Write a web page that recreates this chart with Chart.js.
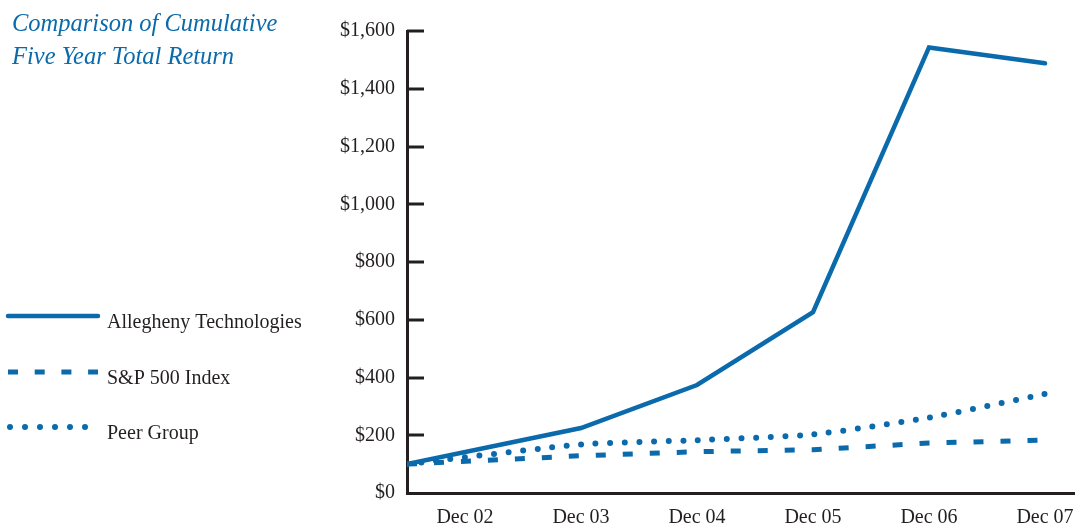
<!DOCTYPE html>
<html>
<head>
<meta charset="utf-8">
<script src="https://cdn.jsdelivr.net/npm/chart.js@4.4.1/dist/chart.umd.min.js"></script>
<style>
  html, body { margin: 0; padding: 0; background: #fff; }
  #wrap { position: relative; width: 1075px; height: 527px; }
  #title { position: absolute; left: 12px; top: 6px; font-family: "Liberation Serif", serif; font-style: italic;
           font-size: 24.5px; line-height: 33px; color: #0a6aab; }
  canvas { position: absolute; left: 0; top: 0; }
</style>
</head>
<body>
<div id="wrap">
  <canvas id="c" width="1075" height="527"></canvas>
  <div id="title">Comparison of Cumulative<br>Five Year Total Return</div>
</div>
<script>
const categories = ["Dec 02", "Dec 03", "Dec 04", "Dec 05", "Dec 06", "Dec 07"];
const alleghenyValues = [100, 225, 374, 626, 1543, 1488];
const sp500Values = [100, 129, 143, 150, 173, 183];
const peerValues = [100, 168, 183, 203, 261, 343];
const yTickValues = [0, 200, 400, 600, 800, 1000, 1200, 1400, 1600];
const seriesNames = ["Allegheny Technologies", "S&P 500 Index", "Peer Group"];

const BLUE = "#0a6aab";
const INK = "#231f20";
const X_MIN = -0.5, X_MAX = 5.25;

// The base (first) value is plotted on the y-axis itself, as in the original.
function toPoints(vals) {
  return vals.map((v, i) => ({ x: i === 0 ? X_MIN : i, y: v }));
}

const yTickPlugin = {
  id: 'yTicksInside',
  afterDraw(chart) {
    const ctx = chart.ctx, y = chart.scales.y, left = chart.chartArea.left;
    ctx.save();
    ctx.strokeStyle = INK; ctx.lineWidth = 3;
    y.ticks.forEach(t => {
      if (t.value === 0) return;
      const py = Math.round(y.getPixelForValue(t.value));
      ctx.beginPath(); ctx.moveTo(left, py); ctx.lineTo(left + 17, py); ctx.stroke();
    });
    ctx.restore();
  }
};

const legendPlugin = {
  id: 'sideLegend',
  afterDraw(chart) {
    const ctx = chart.ctx;
    const rows = [316, 372, 427];
    ctx.save();
    chart.data.datasets.forEach((ds, i) => {
      const yy = rows[i];
      ctx.strokeStyle = ds.borderColor;
      ctx.lineWidth = ds.borderWidth;
      ctx.lineCap = ds.borderCapStyle || 'butt';
      ctx.setLineDash(ds.legendDash || []);
      ctx.beginPath(); ctx.moveTo(i === 2 ? 10 : 8, yy); ctx.lineTo(i === 2 ? 100 : 98, yy); ctx.stroke();
      ctx.setLineDash([]);
      ctx.fillStyle = INK;
      ctx.font = '20px "Liberation Serif", serif';
      ctx.textBaseline = 'alphabetic';
      ctx.textAlign = 'left';
      ctx.fillText(ds.label, 107, yy + 12);
    });
    ctx.restore();
  }
};

new Chart(document.getElementById('c'), {
  type: 'line',
  data: {
    datasets: [
      { label: seriesNames[0], data: toPoints(alleghenyValues), borderColor: BLUE, borderWidth: 4.5,
        borderCapStyle: 'round', borderJoinStyle: 'miter', pointRadius: 0, tension: 0, legendDash: [] },
      { label: seriesNames[1], data: toPoints(sp500Values), borderColor: BLUE, borderWidth: 5,
        borderDash: [10, 17], borderCapStyle: 'butt', pointRadius: 0, tension: 0, legendDash: [10, 16.7] },
      { label: seriesNames[2], data: toPoints(peerValues), borderColor: BLUE, borderWidth: 6,
        borderDash: [0, 14.6], borderCapStyle: 'round', pointRadius: 0, tension: 0.2, legendDash: [0, 15] }
    ]
  },
  options: {
    responsive: false,
    animation: false,
    layout: { padding: { left: 0, right: 1, top: 31, bottom: 0 } },
    plugins: { legend: { display: false }, tooltip: { enabled: false } },
    scales: {
      x: {
        type: 'linear', min: X_MIN, max: X_MAX,
        afterBuildTicks: (s) => { s.ticks = categories.map((c, i) => ({ value: i })); },
        afterFit: (s) => { s.height = 34; s.paddingRight = 0; s.paddingLeft = 0; },
        ticks: { callback: (v) => categories[v] ?? '', color: INK, padding: 13, maxRotation: 0, autoSkip: false,
                 font: { family: '"Liberation Serif", serif', size: 20 } },
        grid: { display: false, drawTicks: false },
        border: { display: true, color: INK, width: 3 }
      },
      y: {
        min: 0, max: 1600,
        afterBuildTicks: (s) => { s.ticks = yTickValues.map(v => ({ value: v })); },
        afterFit: (s) => { s.width = 407; s.paddingTop = 0; s.paddingBottom = 0; },
        ticks: { callback: (v) => '$' + v.toLocaleString('en-US'), color: INK, padding: 12,
                 font: { family: '"Liberation Serif", serif', size: 20 } },
        grid: { display: false, drawTicks: false },
        border: { display: true, color: INK, width: 3 }
      }
    }
  },
  plugins: [yTickPlugin, legendPlugin]
});
</script>
</body>
</html>
